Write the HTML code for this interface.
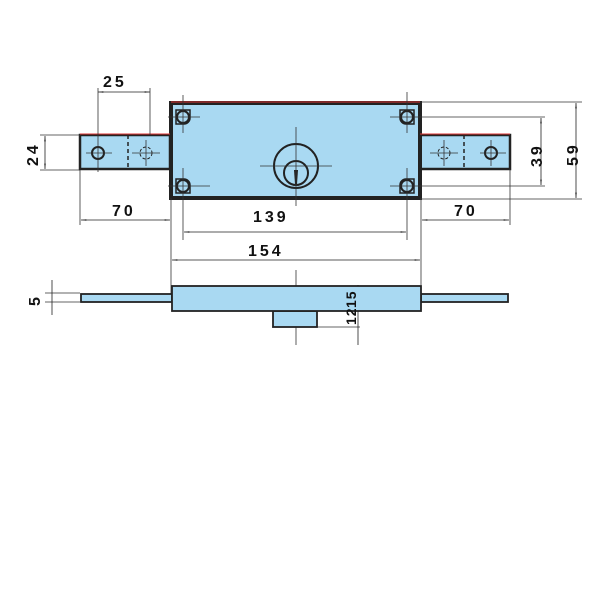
<!DOCTYPE html>
<html><head><meta charset="utf-8"><style>
html,body{margin:0;padding:0;background:#fff;width:600px;height:600px;overflow:hidden}
text{font-family:"Liberation Sans",sans-serif;font-weight:bold;font-size:16px;fill:#111;letter-spacing:3px}
</style></head><body>
<svg width="600" height="600" viewBox="0 0 600 600" xmlns="http://www.w3.org/2000/svg">
<defs>
<marker id="a" viewBox="0 0 10 6" refX="10" refY="3" markerWidth="12" markerHeight="4" orient="auto-start-reverse"><path d="M0,1.5L10,3L0,4.5z" fill="#222"/></marker>
</defs>
<g fill="#a9d9f2" stroke="#222" stroke-width="2.5">
<rect x="80" y="135" width="90" height="34"/>
<rect x="420" y="135" width="90" height="34"/>
<rect x="171" y="103" width="249" height="95" stroke-width="4"/>
</g>
<line x1="171" y1="102" x2="420" y2="102" stroke="#d33" stroke-width="1"/>
<line x1="80" y1="134" x2="170" y2="134" stroke="#d33" stroke-width="1"/>
<line x1="420" y1="134" x2="510" y2="134" stroke="#d33" stroke-width="1"/>
<g stroke="#222" stroke-width="1.5" stroke-dasharray="4,3"><line x1="128" y1="135" x2="128" y2="169"/><line x1="464" y1="135" x2="464" y2="169"/></g>
<g fill="none" stroke="#222" stroke-width="2">
<circle cx="98" cy="153" r="6"/><circle cx="491" cy="153" r="6"/>
<circle cx="183" cy="117" r="6"/><circle cx="407" cy="117" r="6"/>
<circle cx="183" cy="186" r="6"/><circle cx="407" cy="186" r="6"/>
<path d="M176,110h14v8a6,6 0 0 1-6,6h-8z M414,110h-14v8a6,6 0 0 0 6,6h8z M176,193h14v-8a6,6 0 0 0-6-6h-8z M414,193h-14v-8a6,6 0 0 1 6-6h8z" stroke-width="1.5"/>
<circle cx="296" cy="166" r="22"/><circle cx="296" cy="173" r="12"/>
<circle cx="146" cy="153" r="6" stroke-width="1" stroke-dasharray="3,2"/>
<circle cx="444" cy="153" r="6" stroke-width="1" stroke-dasharray="3,2"/>
</g>
<path d="M294,170h4l-1,14h-2z" fill="#222"/>
<g stroke="#333" stroke-width="0.8" fill="none">
<line x1="168" y1="117" x2="200" y2="117"/><line x1="183" y1="95" x2="183" y2="133"/>
<line x1="168" y1="186" x2="210" y2="186"/><line x1="183" y1="168" x2="183" y2="240"/>
<line x1="390" y1="117" x2="545" y2="117"/><line x1="407" y1="92" x2="407" y2="133"/>
<line x1="390" y1="186" x2="545" y2="186"/><line x1="407" y1="168" x2="407" y2="240"/>
<line x1="260" y1="166" x2="332" y2="166"/><line x1="296" y1="127" x2="296" y2="206"/>
<line x1="86" y1="153" x2="112" y2="153"/><line x1="98" y1="88" x2="98" y2="172"/>
<line x1="132" y1="153" x2="160" y2="153"/><line x1="146" y1="140" x2="146" y2="166"/><line x1="150" y1="88" x2="150" y2="135"/>
<line x1="430" y1="153" x2="458" y2="153"/><line x1="444" y1="140" x2="444" y2="166"/>
<line x1="480" y1="153" x2="506" y2="153"/><line x1="491" y1="140" x2="491" y2="166"/>
<line x1="420" y1="102" x2="582" y2="102"/><line x1="420" y1="199" x2="582" y2="199"/>
<line x1="40" y1="135" x2="80" y2="135"/><line x1="40" y1="170" x2="80" y2="170"/>
<line x1="80" y1="170" x2="80" y2="225"/><line x1="171" y1="198" x2="171" y2="295"/>
<line x1="421" y1="198" x2="421" y2="285"/><line x1="510" y1="169" x2="510" y2="225"/>
<line x1="272" y1="327" x2="360" y2="327"/><line x1="296" y1="270" x2="296" y2="345"/>
<line x1="45" y1="293" x2="80" y2="293"/><line x1="45" y1="302" x2="80" y2="302"/>
</g>
<g stroke="#222" stroke-width="0.8" marker-start="url(#a)" marker-end="url(#a)">
<line x1="98" y1="92" x2="150" y2="92"/>
<line x1="45" y1="136" x2="45" y2="169"/>
<line x1="81" y1="220" x2="170" y2="220"/>
<line x1="422" y1="220" x2="509" y2="220"/>
<line x1="184" y1="232" x2="406" y2="232"/>
<line x1="172" y1="260" x2="420" y2="260"/>
<line x1="541" y1="118" x2="541" y2="185"/>
<line x1="576" y1="103" x2="576" y2="198"/>
</g>
<g stroke="#222" stroke-width="0.8">
<line x1="52" y1="280" x2="52" y2="315"/>
<line x1="358" y1="285" x2="358" y2="345"/>
</g>
<g fill="#a9d9f2" stroke="#222" stroke-width="1.8">
<rect x="81" y="294" width="91" height="8"/>
<rect x="421" y="294" width="87" height="8"/>
<rect x="273" y="311" width="44" height="16"/>
<rect x="172" y="286" width="249" height="25"/>
</g>
<text x="103" y="87">25</text>
<text x="112" y="216">70</text>
<text x="454" y="216">70</text>
<text x="253" y="222">139</text>
<text x="248" y="256">154</text>
<text transform="translate(38,166) rotate(-90)">24</text>
<text transform="translate(542,167) rotate(-90)">39</text>
<text transform="translate(578,166) rotate(-90)">59</text>
<text transform="translate(40,306) rotate(-90)">5</text>
<text transform="translate(356,325) rotate(-90)" style="font-size:14px;letter-spacing:1px">12</text>
<text transform="translate(356,308) rotate(-90)" style="font-size:14px;letter-spacing:1px">15</text>
</svg>
</body></html>
